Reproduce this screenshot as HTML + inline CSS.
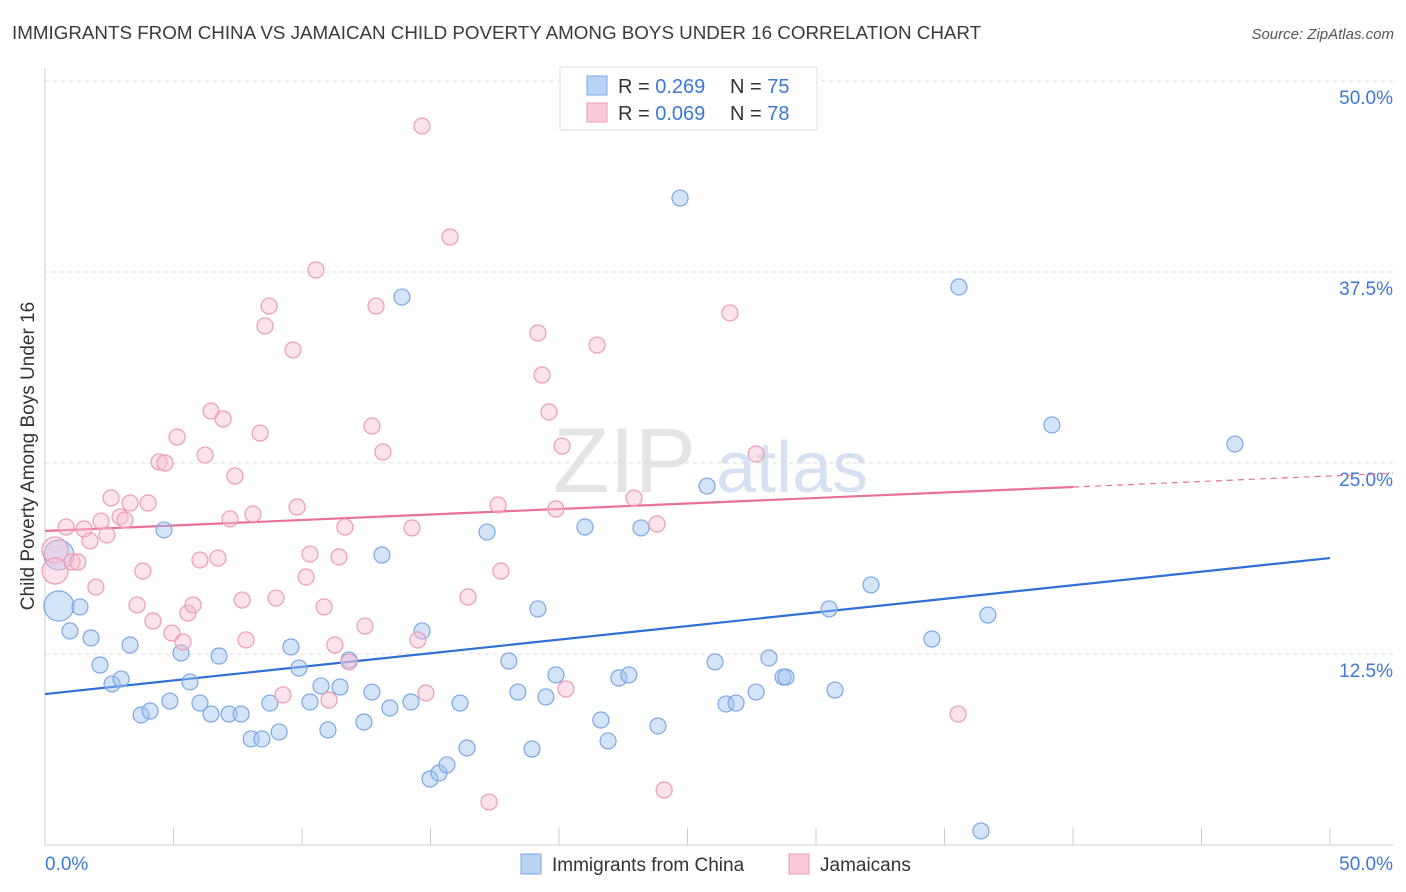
<!DOCTYPE html>
<html><head><meta charset="utf-8">
<style>
body{margin:0;background:#fff;font-family:"Liberation Sans",sans-serif;}
#wrap{position:relative;width:1406px;height:892px;overflow:hidden;}
svg text{font-family:"Liberation Sans",sans-serif;}
</style></head>
<body>
<div id="wrap">
<svg id="chart" width="1406" height="892">
<text x="12" y="39" font-size="18.8" fill="#3a3a3a">IMMIGRANTS FROM CHINA VS JAMAICAN CHILD POVERTY AMONG BOYS UNDER 16 CORRELATION CHART</text>
<text x="1394" y="39" font-size="15" fill="#555" font-style="italic" text-anchor="end">Source: ZipAtlas.com</text>
<text x="34" y="456" font-size="19" fill="#333" text-anchor="middle" transform="rotate(-90 34 456)">Child Poverty Among Boys Under 16</text>
<g><text x="553" y="492" font-size="92" fill="#e4e4e4" font-family="Liberation Serif">ZIP</text><text x="716" y="492" font-size="72" fill="#d6e2f3">atlas</text></g>
<g id="grid"></g><g id="lines"></g><g id="pts"></g>
<g>
<rect x="560" y="67" width="257" height="63" fill="#fff" stroke="#ddd"/>
<rect x="587" y="76" width="20" height="19" fill="#b9d3f5" stroke="#7aa6e6"/>
<rect x="587" y="103" width="20" height="19" fill="#f9c9d8" stroke="#ee9ab4"/>
<text x="618" y="93" font-size="20" fill="#333">R = <tspan fill="#3b78d8">0.269</tspan></text>
<text x="730" y="93" font-size="20" fill="#333">N = <tspan fill="#3b78d8">75</tspan></text>
<text x="618" y="120" font-size="20" fill="#333">R = <tspan fill="#3b78d8">0.069</tspan></text>
<text x="730" y="120" font-size="20" fill="#333">N = <tspan fill="#3b78d8">78</tspan></text>
</g>
<g>
<rect x="521" y="854" width="20" height="20" fill="#b9d3f5" stroke="#7aa6e6"/>
<text x="552" y="871" font-size="19" fill="#333">Immigrants from China</text>
<rect x="789" y="854" width="20" height="20" fill="#f9c9d8" stroke="#ee9ab4"/>
<text x="820" y="871" font-size="19" fill="#333">Jamaicans</text>
</g>
</svg>
</div>
<script>
const yTicks=[12.5,25,37.5,50];
const yTickLabels=["12.5%","25.0%","37.5%","50.0%"];
const xTickVals=[0,5,10,15,20,25,30,35,40,45,50];
const chinaX=[0.54,0.54,1.36,0.97,1.79,2.14,2.61,2.96,3.31,3.74,4.09,4.63,4.86,5.29,5.64,6.03,6.46,6.77,7.16,7.63,8.02,8.44,8.75,9.11,9.57,9.88,10.31,10.74,11.01,11.48,11.83,12.41,12.72,13.11,13.42,13.89,14.24,14.67,14.98,15.33,15.64,16.15,16.42,17.2,18.05,18.4,18.95,19.18,19.49,19.88,21.01,21.63,21.91,22.33,22.72,23.19,23.85,24.71,25.76,26.07,26.5,26.89,27.67,28.17,28.72,28.83,30.51,30.74,32.14,34.51,35.56,36.42,36.69,39.18,46.3];
const chinaY=[18.98,15.64,15.58,14.01,13.55,11.78,10.54,10.86,13.09,8.51,8.77,20.62,9.42,12.57,10.67,9.29,8.57,12.37,8.57,8.57,6.94,6.94,9.29,7.4,12.96,11.58,9.36,10.41,7.53,10.34,12.11,8.05,10.01,18.98,8.97,35.86,9.36,14.01,4.32,4.71,5.24,9.29,6.35,20.48,12.04,10.01,6.28,15.45,9.69,11.13,20.81,8.18,6.81,10.93,11.13,20.75,7.79,42.34,23.49,11.98,9.23,9.29,10.01,12.24,10.99,10.99,15.45,10.14,17.02,13.48,36.52,0.92,15.05,27.49,26.24];
const jamX=[0.39,0.39,0.82,1.05,1.28,1.52,1.75,1.98,2.18,2.41,2.57,2.92,3.11,3.31,3.58,3.81,4.01,4.2,4.44,4.67,4.94,5.14,5.37,5.56,5.76,6.03,6.23,6.46,6.73,6.93,7.2,7.39,7.67,7.82,8.09,8.37,8.56,8.72,8.99,9.26,9.65,9.81,10.16,10.31,10.54,10.86,11.05,11.28,11.44,11.67,11.83,12.45,12.72,12.88,13.15,14.28,14.51,14.67,14.82,15.76,16.46,17.28,17.63,17.74,19.18,19.34,19.61,19.88,20.12,20.27,21.48,22.92,23.81,24.09,26.65,27.67,35.53];
const jamY=[19.31,17.93,20.81,18.52,18.52,20.68,19.9,16.88,21.2,20.29,22.71,21.47,21.27,22.38,15.71,17.93,22.38,14.66,25.07,25.0,13.87,26.7,13.29,15.18,15.71,18.65,25.52,28.4,18.78,27.88,21.34,24.15,16.03,13.42,21.66,26.96,33.97,35.27,16.16,9.82,32.4,22.12,17.54,19.04,37.63,15.58,9.49,13.09,18.85,20.81,11.98,14.33,27.42,35.27,25.72,20.75,13.42,47.05,9.95,39.79,16.23,2.81,22.25,17.93,33.51,30.76,28.34,21.99,26.11,10.21,32.72,22.71,21.01,3.6,34.82,25.59,8.57];
const chinaTrend=[9.88,18.78];
const jamTrend=[20.55,23.43,24.33];
const NS="http://www.w3.org/2000/svg";
const X0=45,X1=1330,Y0=845,PPY=15.28;
const sx=v=>X0+(X1-X0)*v/50;
const sy=v=>Y0-v*PPY;
function mk(tag,attrs,parent){const e=document.createElementNS(NS,tag);for(const k in attrs)e.setAttribute(k,attrs[k]);parent.appendChild(e);return e;}
const grid=document.getElementById('grid');
yTicks.forEach((t,i)=>{
  const l=mk('line',{x1:X0,x2:1393,y1:sy(t),y2:sy(t),stroke:'#ddd','stroke-dasharray':'4,4'},grid);
  
  
  const tx=mk('text',{x:1393,y:sy(t)+23,'font-size':19,fill:'#3b78d8','text-anchor':'end'},grid);
  tx.textContent=yTickLabels[i];
  
  
});
const ax=mk('line',{x1:X0,x2:1393,y1:Y0,y2:Y0,stroke:'#ccc'},grid);


const ay=mk('line',{x1:X0,x2:X0,y1:68,y2:Y0,stroke:'#ccc'},grid);


xTickVals.forEach(v=>{
  const t=mk('line',{x1:sx(v),x2:sx(v),y1:828,y2:Y0,stroke:'#ccc'},grid);
  
  
});
const xl0=mk('text',{x:45,y:870,'font-size':19,fill:'#3b78d8'},grid);xl0.textContent='0.0%';


const xl1=mk('text',{x:1393,y:870,'font-size':19,fill:'#3b78d8','text-anchor':'end'},grid);xl1.textContent='50.0%';


const pts=document.getElementById('pts');
chinaX.forEach((x,i)=>{
  const c=mk('circle',{cx:sx(x),cy:sy(chinaY[i]),r:i<2?15:8,fill:'rgba(160,195,240,0.45)',stroke:'#7aa6e6','stroke-width':1.2},pts);
  
  
});
jamX.forEach((x,i)=>{
  const c=mk('circle',{cx:sx(x),cy:sy(jamY[i]),r:i<2?13:8,fill:'rgba(248,190,208,0.45)',stroke:'#ee9ab4','stroke-width':1.2},pts);
  
  
});
const lines=document.getElementById('lines');
const bl=mk('line',{x1:sx(0),y1:sy(chinaTrend[0]),x2:sx(50),y2:sy(chinaTrend[1]),stroke:'#2f6fd6','stroke-width':2.2},lines);


const pl=mk('line',{x1:sx(0),y1:sy(jamTrend[0]),x2:sx(40),y2:sy(jamTrend[1]),stroke:'#e8709a','stroke-width':2.2},lines);


const pd=mk('line',{x1:sx(40),y1:sy(jamTrend[1]),x2:sx(52.45),y2:sy(jamTrend[2]),stroke:'#e8709a','stroke-width':1.2,'stroke-dasharray':'6,5'},lines);


</script>
</body></html>
